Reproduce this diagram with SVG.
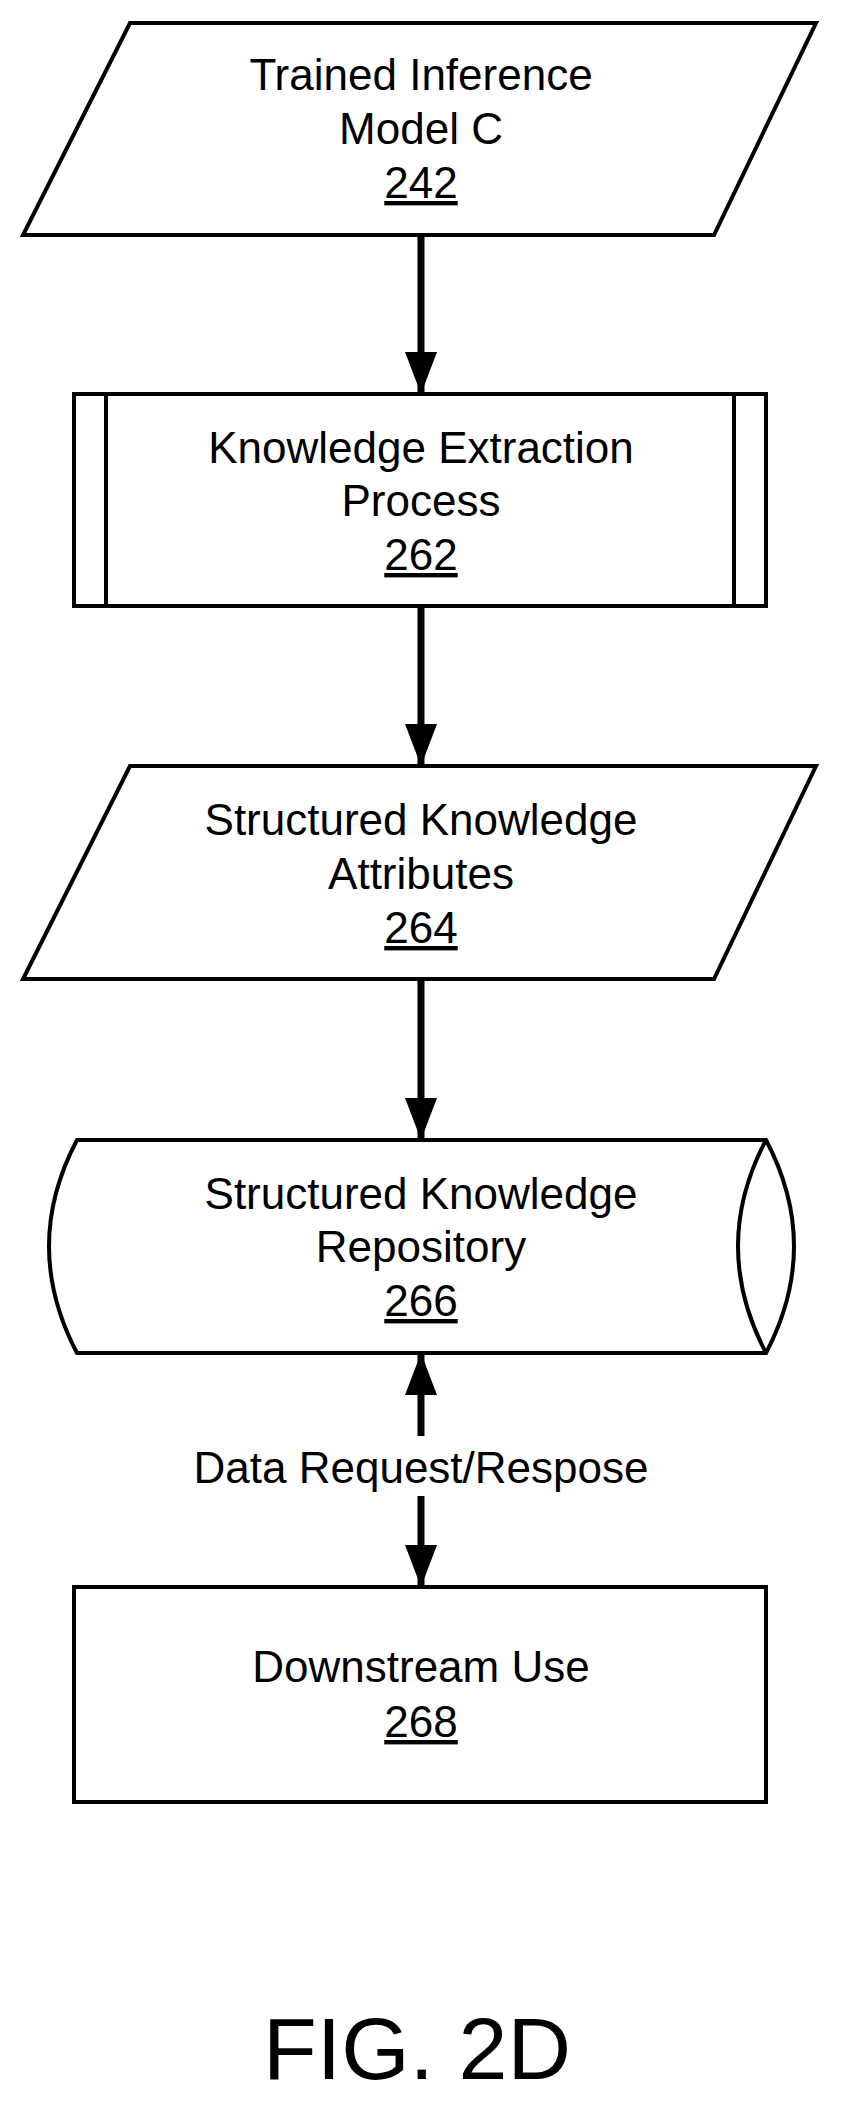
<svg xmlns="http://www.w3.org/2000/svg" width="843" height="2111" viewBox="0 0 843 2111">
<style>
.s{fill:#fff;stroke:#000;stroke-width:4;stroke-linejoin:miter}
.t{font-family:"Liberation Sans",Arial,sans-serif;font-size:44px;text-anchor:middle;fill:#000}
.u{text-decoration:underline}
.c{stroke:#000;stroke-width:7;fill:none}
</style>
<defs>
<marker id="a" markerUnits="userSpaceOnUse" markerWidth="42" markerHeight="32" refX="42" refY="16" orient="auto-start-reverse" viewBox="0 0 42 32">
<path d="M0,0 L42,16 L0,32 Z" fill="#000"/>
</marker>
</defs>
<rect width="843" height="2111" fill="#fff"/>
<g id="n242">
<polygon class="s" points="130,23 816,23 714,235 23,235"/>
<text class="t" x="421" y="90">Trained Inference</text>
<text class="t" x="421" y="144">Model C</text>
<text class="t u" x="421" y="198">242</text>
</g>
<g id="n262">
<rect class="s" x="74" y="394" width="692" height="212"/>
<line class="s" x1="106" y1="394" x2="106" y2="606"/>
<line class="s" x1="734" y1="394" x2="734" y2="606"/>
<text class="t" x="421" y="463">Knowledge Extraction</text>
<text class="t" x="421" y="516">Process</text>
<text class="t u" x="421" y="570">262</text>
</g>
<g id="n264">
<polygon class="s" points="130,766 816,766 714,979 23,979"/>
<text class="t" x="421" y="835">Structured Knowledge</text>
<text class="t" x="421" y="889">Attributes</text>
<text class="t u" x="421" y="943">264</text>
</g>
<g id="n266">
<path class="s" d="M77,1140 L766,1140 Q822,1246 766,1353 L77,1353 Q21,1246 77,1140 Z"/>
<path class="s" d="M766,1140 Q710,1246 766,1353"/>
<text class="t" x="421" y="1209">Structured Knowledge</text>
<text class="t" x="421" y="1262">Repository</text>
<text class="t u" x="421" y="1316">266</text>
</g>
<g id="n268">
<rect class="s" x="74" y="1587" width="692" height="215"/>
<text class="t" x="421" y="1682">Downstream Use</text>
<text class="t u" x="421" y="1737">268</text>
</g>
<g id="connectors">
<line class="c" x1="421" y1="235" x2="421" y2="394" marker-end="url(#a)"/>
<line class="c" x1="421" y1="606" x2="421" y2="766" marker-end="url(#a)"/>
<line class="c" x1="421" y1="979" x2="421" y2="1140" marker-end="url(#a)"/>
<line class="c" x1="421" y1="1436" x2="421" y2="1353" marker-end="url(#a)"/>
<line class="c" x1="421" y1="1496" x2="421" y2="1587" marker-end="url(#a)"/>
<text class="t" x="421" y="1483">Data Request/Respose</text>
</g>
<text x="417" y="2079" style="font-family:'Liberation Sans',Arial,sans-serif;font-size:88px;text-anchor:middle">FIG. 2D</text>
</svg>
